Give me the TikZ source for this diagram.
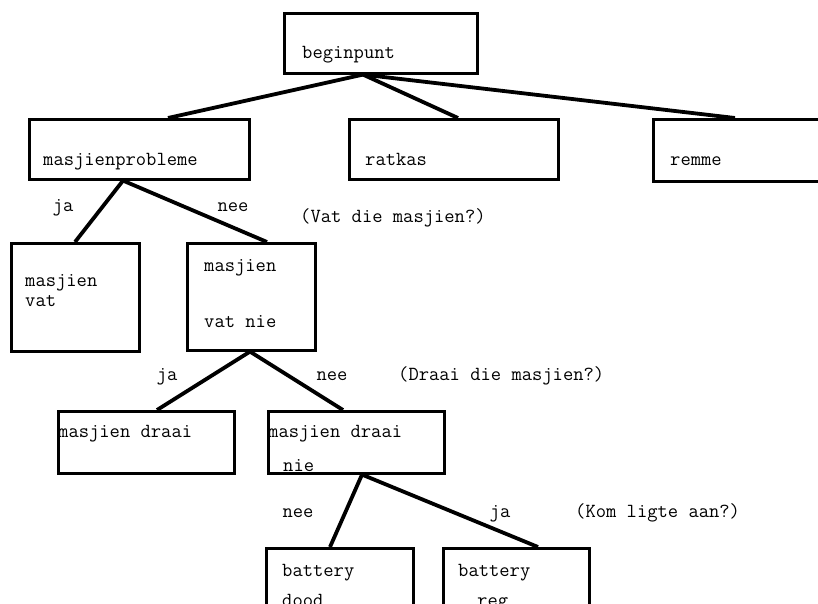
\documentclass[tikz,border=0pt]{standalone}
\usepackage{fontspec}
\begin{document}
\begin{tikzpicture}[x=1pt,y=-1pt,
  box/.style={draw, line width=2.6pt, rectangle, inner sep=0pt, anchor=north west},
  conn/.style={line width=3.8pt},
  txt/.style={font=\ttfamily\fontsize{20}{22}\selectfont, inner sep=0pt, anchor=base west},
  lbl/.style={font=\ttfamily\fontsize{20}{22}\selectfont, inner sep=0pt, anchor=base}]
\useasboundingbox (0,0) rectangle (818,604);
\clip (0,0) rectangle (818,604);

% boxes
\node[box, minimum width=193pt, minimum height=60pt]  (b0) at (283,12)  {};
\node[box, minimum width=220pt, minimum height=60pt]  (p1) at (28,118)  {};
\node[box, minimum width=209pt, minimum height=60pt]  (p2) at (348,118) {};
\node[box, minimum width=180pt, minimum height=62pt]  (p3) at (652,118) {};
\node[box, minimum width=128pt, minimum height=108pt] (q1) at (10,242)  {};
\node[box, minimum width=128pt, minimum height=107pt] (q2) at (186,242) {};
\node[box, minimum width=176pt, minimum height=62pt]  (r1) at (57,410)  {};
\node[box, minimum width=176pt, minimum height=62pt]  (r2) at (267,410) {};
\node[box, minimum width=147pt, minimum height=100pt] (s1) at (265,547) {};
\node[box, minimum width=146pt, minimum height=100pt] (s2) at (442,547) {};

% box texts
\node[txt] (t0)  at (302,59)  {beginpunt};
\node[txt] (t1)  at (43,166)  {masjienprobleme};
\node[txt] (t2)  at (365,166) {ratkas};
\node[txt] (t3)  at (670,165) {remme};
\node[txt] (t4a) at (25,286)  {masjien};
\node[txt] (t4b) at (25,306)  {vat};
\node[txt] (t5a) at (204,271) {masjien};
\node[txt] (t5b) at (204,327) {vat nie};
\node[txt] (t6)  at (58,437)  {masjien draai};
\node[txt] (t7a) at (268,437) {masjien draai};
\node[txt] (t7b) at (283,471) {nie};
\node[txt] (t8a) at (282,576) {battery};
\node[txt] (t8b) at (282,606) {dood};
\node[txt] (t9a) at (458,576) {battery};
\node[txt] (t9b) at (477,606) {reg};

% connectors
\draw[conn] ([xshift=80pt]b0.south west) -- ([xshift=140pt]p1.north west);
\draw[conn] ([xshift=80pt]b0.south west) -- ([xshift=110pt]p2.north west);
\draw[conn] ([xshift=80pt]b0.south west) -- ([xshift=83pt]p3.north west);
\draw[conn] ([xshift=95pt]p1.south west) -- ([xshift=65pt]q1.north west);
\draw[conn] ([xshift=95pt]p1.south west) -- ([xshift=81pt]q2.north west);
\draw[conn] ([xshift=64pt]q2.south west) -- ([xshift=100pt]r1.north west);
\draw[conn] ([xshift=64pt]q2.south west) -- ([xshift=76pt]r2.north west);
\draw[conn] ([xshift=95pt]r2.south west) -- ([xshift=65pt]s1.north west);
\draw[conn] ([xshift=95pt]r2.south west) -- ([xshift=96pt]s2.north west);

% branch labels and questions
\node[lbl] (l1) at (63,211)  {ja};
\node[lbl] (l2) at (233,211) {nee};
\node[txt] (k1) at (300,222) {(Vat die masjien?)};
\node[lbl] (l3) at (167,380) {ja};
\node[lbl] (l4) at (332,380) {nee};
\node[txt] (k2) at (398,380) {(Draai die masjien?)};
\node[lbl] (l5) at (298,517) {nee};
\node[lbl] (l6) at (500,517) {ja};
\node[txt] (k3) at (575,517) {(Kom ligte aan?)};
\end{tikzpicture}
\end{document}
